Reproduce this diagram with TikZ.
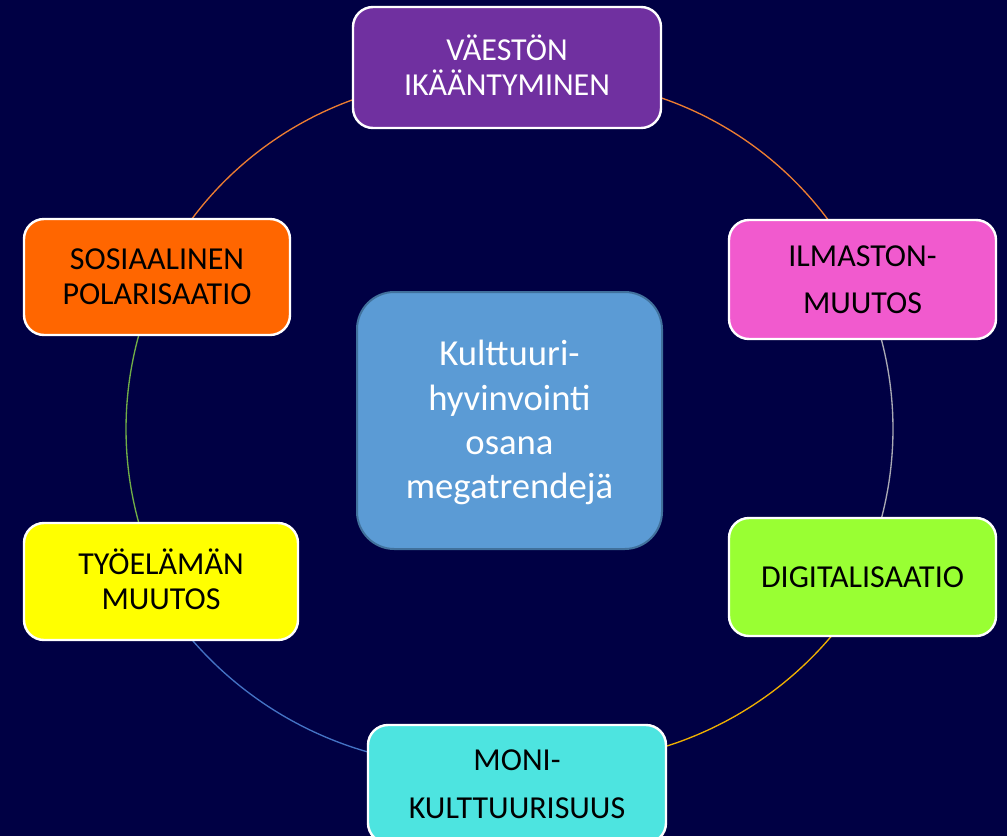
\documentclass[tikz,border=0pt]{standalone}
\usepackage{fontspec}
\setmainfont{Carlito}
\definecolor{bgNavy}{RGB}{0,0,68}
\definecolor{cPurple}{RGB}{112,48,160}
\definecolor{cPink}{RGB}{241,90,206}
\definecolor{cOrange}{RGB}{255,102,0}
\definecolor{cYellow}{RGB}{255,255,0}
\definecolor{cGreen}{RGB}{153,255,51}
\definecolor{cCyan}{RGB}{77,228,224}
\definecolor{cBlue}{RGB}{91,155,213}
\definecolor{cBlueEdge}{RGB}{65,113,156}
\definecolor{aOrange}{RGB}{237,125,49}
\definecolor{aGray}{RGB}{170,170,180}
\definecolor{aGold}{RGB}{240,176,0}
\definecolor{aBlue}{RGB}{68,114,196}
\definecolor{aGreen}{RGB}{112,173,71}
\newcommand{\tstr}{\rule{0pt}{0.944em}}
\newcommand{\bstr}{\rule[-0.3em]{0pt}{0.3em}}
\pgfdeclarelayer{back}
\pgfdeclarelayer{arcs}
\pgfsetlayers{back,arcs,main}
\tikzset{
  trend/.style={draw=white, line width=1.8pt, rounded corners=15pt, inner sep=0pt,
    align=center, text=black, font=\fontsize{24}{26.25}\selectfont},
  hub/.style={draw=cBlueEdge, line width=1.5pt, rounded corners=28pt, inner sep=0pt,
    align=center, fill=cBlue, text=white, font=\fontsize{27.5}{33.2}\selectfont},
  ring/.style={line width=1pt}
}
\begin{document}
\begin{tikzpicture}[x=0.75pt,y=-0.75pt]
\begin{pgfonlayer}{back}
  \fill[bgNavy] (0,0) rectangle (1007,836);
\end{pgfonlayer}
\useasboundingbox (0,0) rectangle (1007,836);
\clip (0,0) rectangle (1007,836);

\node[trend, fill=cPurple, text=white, minimum width=231pt, minimum height=90.75pt] (aging) at (507,67.5) {\tstr VÄESTÖN\\IKÄÄNTYMINEN\bstr};
\node[trend, fill=cPink, minimum width=200.25pt, minimum height=89.25pt] (climate) at (862.5,279.5) {\tstr ILMASTON-\\[9pt]MUUTOS\bstr};
\node[trend, fill=cGreen, minimum width=200.25pt, minimum height=88.5pt] (digital) at (862.5,577) {\tstr DIGITALISAATIO\bstr};
\node[trend, fill=cCyan, minimum width=223.5pt, minimum height=88.5pt] (multi) at (517,784) {\tstr MONI-\\[10pt]KULTTUURISUUS\bstr};
\node[trend, fill=cYellow, minimum width=205.5pt, minimum height=87.75pt] (work) at (161,581.5) {\tstr TYÖELÄMÄN\\MUUTOS\bstr};
\node[trend, fill=cOrange, minimum width=199.5pt, minimum height=87pt] (social) at (157,277) {\tstr SOSIAALINEN\\POLARISAATIO\bstr};
\node[hub, minimum width=228.75pt, minimum height=192.75pt] (hub) at (509.5,420.5) {\tstr Kulttuuri-\\hyvinvointi\\osana\\megatrendejä\bstr};

\begin{pgfonlayer}{arcs}
  \draw[ring, aOrange] (social.center) -- plot[domain=-150:-100, samples=60, variable=\t] ({471.3+349*cos(\t)}, {428+349*sin(\t)}) -- (aging.center);
  \draw[ring, aOrange] (aging.center) -- plot[domain=-80:-30, samples=60, variable=\t] ({548+349*cos(\t)}, {428+349*sin(\t)}) -- (climate.center);
  \draw[ring, aGray] (climate.center) -- plot[domain=-25:25, samples=60, variable=\t] ({542+351*cos(\t)}, {429+351*sin(\t)}) -- (digital.center);
  \draw[ring, aGold] (digital.center) -- plot[domain=35:78, samples=60, variable=\t] ({558+358*cos(\t)}, {405+358*sin(\t)}) -- (multi.center);
  \draw[ring, aBlue] (multi.center) -- plot[domain=100:145, samples=60, variable=\t] ({468+365*cos(\t)}, {401+365*sin(\t)}) -- (work.center);
  \draw[ring, aGreen] (work.center) -- plot[domain=155:205, samples=60, variable=\t] ({477+351*cos(\t)}, {429+351*sin(\t)}) -- (social.center);
\end{pgfonlayer}
\end{tikzpicture}
\end{document}
